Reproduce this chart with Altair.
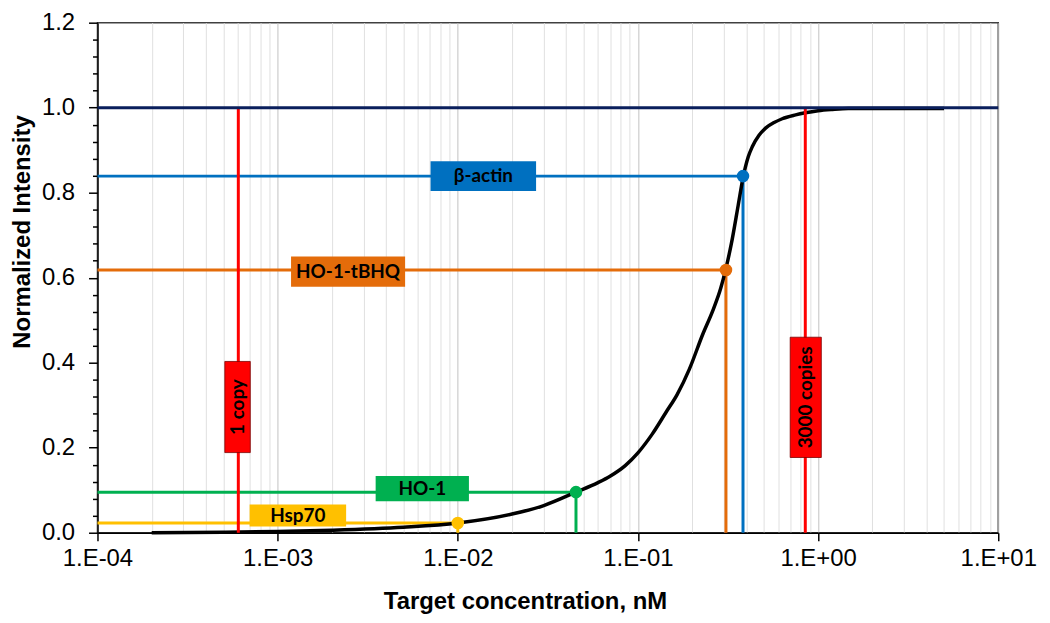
import math
import altair as alt
import pandas as pd

# ---------------- data ----------------
X_MIN, X_MAX = 1e-4, 10.0
Y_MIN, Y_MAX = 0.0, 1.2

# calibration curve (target concentration, nM -> normalized intensity)
curve_conc = [2e-4, 5e-4, 1e-3, 2e-3, 5e-3, 1e-2, 2e-2, 3e-2, 4.53e-2, 0.06, 0.07,
              0.085, 0.1, 0.12, 0.1435, 0.165, 0.193, 0.229, 0.26, 0.288, 0.308,
              0.33, 0.36, 0.383, 0.41, 0.431, 0.47, 0.511, 0.57, 0.632, 0.75,
              0.849, 1.0, 1.2, 1.47, 5.0]
curve_int = [0.0, 0.001, 0.003, 0.006, 0.013, 0.023, 0.044, 0.064, 0.0955, 0.118,
             0.133, 0.158, 0.188, 0.232, 0.284, 0.325, 0.385, 0.467, 0.522, 0.575,
             0.622, 0.68, 0.77, 0.835, 0.885, 0.908, 0.935, 0.952, 0.965, 0.974,
             0.983, 0.988, 0.993, 0.996, 0.998, 0.998]

# measured targets
target_names = ["β-actin", "HO-1-tBHQ", "HO-1", "Hsp70"]
target_conc = [0.383, 0.308, 0.0453, 0.01]
target_int = [0.839, 0.618, 0.0955, 0.023]
# label boxes (concentration range, intensity range)
tbox_x0 = [0.00706, 0.001187, 0.0035, 0.000699]
tbox_x1 = [0.0272, 0.0051, 0.01153, 0.0024]
tbox_y0 = [0.804, 0.579, 0.074, 0.0144]
tbox_y1 = [0.874, 0.650, 0.1335, 0.0664]

# copy-number limits
copy_names = ["1 copy", "3000 copies"]
copy_conc = [6.05e-4, 0.849]
copy_top = 1.0
cbox_x0 = [5.09e-4, 0.700]
cbox_x1 = [7.05e-4, 1.042]
cbox_y0 = [0.1885, 0.177]
cbox_y1 = [0.403, 0.460]

saturation_name = "saturation"
saturation_level = 1.0

# ---------------- styles ----------------
target_colors = ["#0070C0", "#E46C0A", "#00B050", "#FFC000"]
copy_color = "#FF0000"
saturation_color = "#0A1F5C"

color_scale = alt.Scale(
    domain=target_names + copy_names + [saturation_name],
    range=target_colors + [copy_color, copy_color] + [saturation_color],
)
col = alt.Color("name:N", scale=color_scale, legend=None)

# ---------------- tables ----------------
curve_df = pd.DataFrame({"conc": curve_conc, "int": curve_int})

targets_df = pd.DataFrame({
    "name": target_names,
    "conc": target_conc,
    "int": target_int,
    "xs": [X_MIN] * len(target_names),
    "zero": [Y_MIN] * len(target_names),
    "bx0": tbox_x0, "bx1": tbox_x1, "by0": tbox_y0, "by1": tbox_y1,
})
targets_df["cx"] = [math.sqrt(a * b) for a, b in zip(tbox_x0, tbox_x1)]
targets_df["cy"] = [(a + b) / 2 for a, b in zip(tbox_y0, tbox_y1)]

copies_df = pd.DataFrame({
    "name": copy_names,
    "conc": copy_conc,
    "zero": [Y_MIN] * len(copy_names),
    "top": [copy_top] * len(copy_names),
    "bx0": cbox_x0, "bx1": cbox_x1, "by0": cbox_y0, "by1": cbox_y1,
})
copies_df["cx"] = [math.sqrt(a * b) for a, b in zip(cbox_x0, cbox_x1)]
copies_df["cy"] = [(a + b) / 2 for a, b in zip(cbox_y0, cbox_y1)]

sat_df = pd.DataFrame({"name": [saturation_name], "x0": [X_MIN], "x1": [X_MAX],
                       "lvl": [saturation_level]})

# ---------------- axes ----------------
decades = list(range(-4, 2))
x_values = []
for e in decades[:-1]:
    for k in range(1, 10):
        x_values.append(float(f"{k}e{e}"))
x_values.append(float(f"1e{decades[-1]}"))

is_decade = "abs(log(datum.value)/LN10 - round(log(datum.value)/LN10)) < 0.001"
exp_expr = "round(log(datum.value)/LN10)"
x_label_expr = (
    f"{is_decade} ? '1.E' + ({exp_expr} >= 0 ? '+' : '-') + "
    f"(abs({exp_expr}) < 10 ? '0' : '') + abs({exp_expr}) : ''"
)

FONT = "Liberation Sans"
x_scale = alt.Scale(type="log", domain=[X_MIN, X_MAX])
x_axis = alt.Axis(
    values=x_values,
    labelExpr=x_label_expr,
    labelOverlap=False,
    labelFlush=False,
    labelFont=FONT, labelFontSize=24, labelColor="black", labelPadding=6,
    grid=True,
    gridColor={"condition": {"test": is_decade, "value": "#c2c2c2"}, "value": "#e0e0e0"},
    gridWidth=1,
    tickSize={"condition": {"test": is_decade, "value": 8}, "value": 0},
    tickColor="black", tickWidth=1.5,
    domainColor="black", domainWidth=1.5,
    title="Target concentration, nM",
    titleFont=FONT, titleFontSize=24, titleFontWeight="bold", titleColor="black",
    titleX=430, titleY=69, titleBaseline="middle", titleAlign="center",
)

y_values = [round(i * 0.04, 2) for i in range(31)]
is_major_y = "abs(datum.value*5 - round(datum.value*5)) < 0.001"
y_scale = alt.Scale(domain=[Y_MIN, Y_MAX], nice=False, zero=True)
y_axis = alt.Axis(
    values=y_values,
    labelExpr=f"{is_major_y} ? format(datum.value, '.1f') : ''",
    labelOverlap=False,
    labelFlush=False,
    labelFont=FONT, labelFontSize=24, labelColor="black", labelPadding=14,
    grid=False,
    tickSize={"condition": {"test": is_major_y, "value": 9}, "value": 5},
    tickColor="black", tickWidth=1.5,
    domainColor="black", domainWidth=1.5,
    title="Normalized Intensity",
    titleFont=FONT, titleFontSize=24, titleFontWeight="bold", titleColor="black",
    titleAngle=270, titleX=-75, titleY=210, titleBaseline="middle", titleAlign="center",
)


def X(field):
    return alt.X(f"{field}:Q", scale=x_scale, axis=x_axis)


def Y(field):
    return alt.Y(f"{field}:Q", scale=y_scale, axis=y_axis)


# ---------------- layers ----------------
h_rules = alt.Chart(targets_df).mark_rule(strokeWidth=3).encode(
    x=X("xs"), x2="conc:Q", y=Y("int"), color=col)

v_rules = alt.Chart(targets_df).mark_rule(strokeWidth=3).encode(
    x=X("conc"), y=Y("zero"), y2="int:Q", color=col)

curve = alt.Chart(curve_df).mark_line(color="black", strokeWidth=3.5,
                                      interpolate="monotone").encode(
    x=X("conc"), y=Y("int"))

sat = alt.Chart(sat_df).mark_rule(strokeWidth=3).encode(
    x=X("x0"), x2="x1:Q", y=Y("lvl"), color=col)

copy_rules = alt.Chart(copies_df).mark_rule(strokeWidth=3).encode(
    x=X("conc"), y=Y("zero"), y2="top:Q", color=col)

t_boxes = alt.Chart(targets_df).mark_rect(opacity=1).encode(
    x=X("bx0"), x2="bx1:Q", y=Y("by0"), y2="by1:Q", color=col)

c_boxes = alt.Chart(copies_df).mark_rect(opacity=1, stroke="#7a0000",
                                         strokeWidth=0.8).encode(
    x=X("bx0"), x2="bx1:Q", y=Y("by0"), y2="by1:Q", color=col)

t_text = alt.Chart(targets_df).mark_text(
    font="Lato", fontWeight="bold", fontSize=19, color="black",
    align="center", baseline="middle").encode(
    x=X("cx"), y=Y("cy"), text="name:N")

c_text = alt.Chart(copies_df).mark_text(
    font="Lato", fontWeight="bold", fontSize=19, color="black", angle=270,
    align="center", baseline="middle").encode(
    x=X("cx"), y=Y("cy"), text="name:N")

dots = alt.Chart(targets_df).mark_circle(size=160, opacity=1).encode(
    x=X("conc"), y=Y("int"), color=col)

chart = alt.layer(
    h_rules, v_rules, curve, copy_rules, sat, t_boxes, c_boxes, t_text, c_text, dots
).properties(
    width=906,
    height=513,
    autosize=alt.AutoSizeParams(type="none"),
    padding={"left": 90, "top": 13, "right": 44, "bottom": 85},
    background="white",
).configure_view(
    stroke="#404040", strokeWidth=1.5
)

chart.save("out.html", embed_options={"renderer": "svg", "actions": False})
